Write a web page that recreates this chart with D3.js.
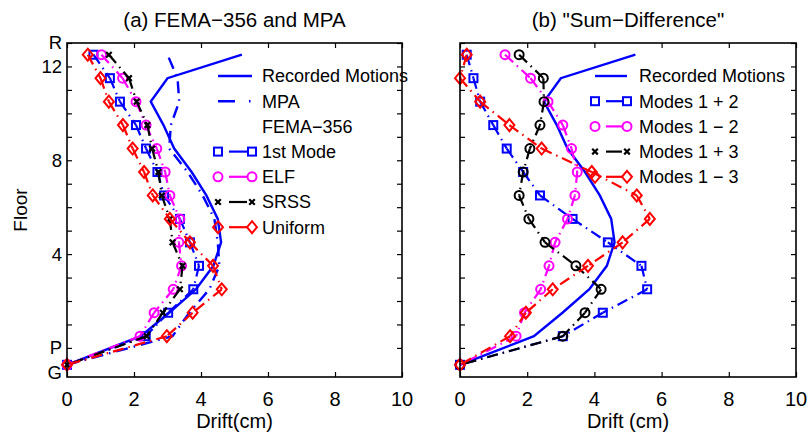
<!DOCTYPE html>
<html><head><meta charset="utf-8">
<script src="https://cdn.jsdelivr.net/npm/d3@7"></script>
<style>
body{margin:0;background:#fff;}
text{font-family:"Liberation Sans",Arial,Helvetica,sans-serif;fill:#000;}
</style></head>
<body><svg id="c" width="808" height="437"></svg>
<script>
// story levels (mid-height of each story; first entry = ground)
const levels = [-0.72, 0.5, 1.5, 2.5, 3.5, 4.5, 5.5, 6.5, 7.5, 8.5, 9.5, 10.5, 11.5, 12.5];
const recorded = [0, 2.2, 3.05, 3.85, 4.37, 4.6, 4.5, 4.16, 3.72, 3.2, 2.88, 2.5, 3.0, 5.22];
const mpa      = [0, 3.15, 3.65, 4.25, 4.55, 4.5, 4.4, 4.05, 3.6, 3.05, 3.1, 3.35, 3.3, 3.0];
// FEMA-356
const mode1    = [0, 2.35, 3.02, 3.77, 3.94, 3.67, 3.37, 2.9, 2.7, 2.36, 2.06, 1.58, 1.28, 0.79];
const elf      = [0, 2.18, 2.6, 3.17, 3.42, 3.34, 3.37, 3.07, 2.93, 2.68, 2.36, 2.06, 1.66, 1.03];
const srss     = [0, 2.38, 2.86, 3.37, 3.45, 3.15, 3.07, 2.83, 2.73, 2.54, 2.4, 2.08, 1.85, 1.25];
const uniform  = [0, 2.98, 3.75, 4.62, 4.36, 3.67, 3.07, 2.56, 2.3, 1.96, 1.67, 1.25, 1.0, 0.62];
// Sum-Difference
const m1p2     = [0, 3.06, 4.25, 5.57, 5.4, 4.4, 3.35, 2.38, 1.88, 1.39, 0.99, 0.6, 0.4, 0.2];
const m1m2     = [0, 1.67, 1.92, 2.4, 2.65, 2.83, 3.2, 3.42, 3.49, 3.32, 3.06, 2.62, 2.1, 1.34];
const m1p3     = [0, 3.06, 3.72, 4.2, 3.45, 2.53, 2.05, 1.76, 1.88, 2.08, 2.38, 2.5, 2.48, 1.76];
const m1m3     = [0, 1.49, 1.96, 2.76, 3.81, 4.84, 5.65, 5.26, 3.92, 2.43, 1.47, 0.6, 0.0, 0.2];

const xTicks = [0, 2, 4, 6, 8, 10];
const yTicks = d3.range(0, 14);
const yLabels = [{v:-1.05,t:"G"},{v:0,t:"P"},{v:4,t:"4"},{v:8,t:"8"},{v:12,t:"12"},{v:13,t:"R"}];
const titles = ["(a) FEMA\u2212356 and MPA", "(b) \"Sum\u2212Difference\""];
const xLabels = ["Drift(cm)", "Drift (cm)"];

const legendA = [
  {t:"Recorded Motions", c:"#0000ff", kind:"solid"},
  {t:"MPA", c:"#0000ff", kind:"mpa"},
  {t:"FEMA\u2212356", kind:"none"},
  {t:"1st Mode", c:"#0000ff", m:"square"},
  {t:"ELF", c:"#ff00ff", m:"circle"},
  {t:"SRSS", c:"#000000", m:"x"},
  {t:"Uniform", c:"#ff0000", m:"diamond"}
];
const legendB = [
  {t:"Recorded Motions", c:"#0000ff", kind:"solid"},
  {t:"Modes 1 + 2", c:"#0000ff", m:"square"},
  {t:"Modes 1 \u2212 2", c:"#ff00ff", m:"circle"},
  {t:"Modes 1 + 3", c:"#000000", m:"x"},
  {t:"Modes 1 \u2212 3", c:"#ff0000", m:"diamond"}
];

const svg = d3.select("#c");
const y = d3.scaleLinear().domain([-1.24, 13]).range([377, 43]);
const panels = [
  {x: d3.scaleLinear().domain([0,10]).range([67,402]), labels:true,
   series:[{d:mode1,c:"#0000ff",m:"square"},{d:elf,c:"#ff00ff",m:"circle"},{d:srss,c:"#000",m:"x"},{d:uniform,c:"#ff0000",m:"diamond"}],
   mpa:true, legend:legendA, lx:[218,252], tx:262},
  {x: d3.scaleLinear().domain([0,10]).range([460,796]), labels:false,
   series:[{d:m1p2,c:"#0000ff",m:"square"},{d:m1m2,c:"#ff00ff",m:"circle"},{d:m1p3,c:"#000",m:"circle"},{d:m1m3,c:"#ff0000",m:"diamond"}],
   mpa:false, legend:legendB, lx:[595,627], tx:639}
];

function marker(g, type, cx, cy, color){
  const s = g.append("g").attr("transform",`translate(${cx},${cy})`)
    .attr("fill","none").attr("stroke",color).attr("stroke-width",2);
  if(type==="square") s.append("rect").attr("x",-4).attr("y",-4).attr("width",8).attr("height",8);
  else if(type==="circle") s.append("circle").attr("r",4.5);
  else if(type==="diamond") s.append("path").attr("d","M0,-6L5,0L0,6L-5,0Z");
  else if(type==="x"){ s.append("path").attr("d","M-2.8,-2.8L2.8,2.8M-2.8,2.8L2.8,-2.8").attr("stroke-width",2.2); }
}

const line = (xs) => d3.line().x(d=>xs(d[0])).y(d=>y(d[1]));

panels.forEach((p,pi)=>{
  const g = svg.append("g");
  const x = p.x;
  g.append("path").datum(recorded.map((v,i)=>[v,levels[i]]))
    .attr("d", line(x)).attr("fill","none").attr("stroke","#0000ff").attr("stroke-width",2.4);
  if(p.mpa){
    g.append("path").datum(mpa.map((v,i)=>[v,levels[i]]))
      .attr("d", line(x)).attr("fill","none").attr("stroke","#0000ff").attr("stroke-width",2.4)
      .attr("stroke-dasharray","12,6,1.5,6");
  }
  p.series.forEach(s=>{
    const pts = s.d.map((v,i)=>[v,levels[i]]);
    for(let i=pts.length-1;i>0;i--){
      g.append("path").datum([pts[i],pts[i-1]]).attr("d", line(x))
        .attr("fill","none").attr("stroke",s.c).attr("stroke-width",2.2)
        .attr("stroke-dasharray","11,5,1.5,5");
    }
    pts.forEach(q=>marker(g, s.m, x(q[0]), y(q[1]), s.c));
  });
  const [x0,x1] = x.range();
  g.append("rect").attr("x",x0).attr("y",43).attr("width",x1-x0).attr("height",334)
    .attr("fill","none").attr("stroke","#000").attr("stroke-width",1.6);
  const tickAttr = sel => { sel.select(".domain").remove(); sel.selectAll("line").attr("stroke","#000").attr("stroke-width",1.2); sel.selectAll("text").remove(); };
  g.append("g").attr("transform","translate(0,377)").call(d3.axisBottom(x).tickValues(xTicks).tickSize(-5).tickSizeOuter(0)).call(tickAttr);
  g.append("g").attr("transform","translate(0,43)").call(d3.axisTop(x).tickValues(xTicks).tickSize(-5).tickSizeOuter(0)).call(tickAttr);
  g.append("g").attr("transform",`translate(${x0},0)`).call(d3.axisLeft(y).tickValues(yTicks).tickSize(-5).tickSizeOuter(0)).call(tickAttr);
  g.append("g").attr("transform",`translate(${x1},0)`).call(d3.axisRight(y).tickValues(yTicks).tickSize(-5).tickSizeOuter(0)).call(tickAttr);
  g.selectAll(".xl").data(xTicks).enter().append("text")
    .attr("x",d=>x(d)).attr("y",406).attr("text-anchor","middle").attr("font-size",20).text(d=>d);
  if(p.labels){
    g.selectAll(".yl").data(yLabels).enter().append("text")
      .attr("x",62).attr("y",d=>y(d.v)).attr("dy","0.35em").attr("text-anchor","end").attr("font-size",18.5).text(d=>d.t);
    g.append("text").attr("transform","translate(27,210) rotate(-90)").attr("text-anchor","middle").attr("font-size",19).text("Floor");
  }
  g.append("text").attr("x",(x0+x1)/2).attr("y",428).attr("text-anchor","middle").attr("font-size",20).text(xLabels[pi]);
  g.append("text").attr("x",(x0+x1)/2).attr("y",27).attr("text-anchor","middle").attr("font-size",20.5).text(titles[pi]);
  const [la,lb] = p.lx;
  p.legend.forEach((L,i)=>{
    const ly = 76 + i*25.2;
    const lg = g.append("g");
    if(L.kind==="solid"){
      lg.append("line").attr("x1",la).attr("x2",lb).attr("y1",ly).attr("y2",ly).attr("stroke",L.c).attr("stroke-width",2.4);
    } else if(L.kind==="mpa"){
      lg.append("line").attr("x1",la).attr("x2",lb).attr("y1",ly).attr("y2",ly).attr("stroke",L.c).attr("stroke-width",2.4).attr("stroke-dasharray","17,14,1.5,40");
    } else if(L.m){
      lg.append("line").attr("x1",la+11).attr("x2",lb-5).attr("y1",ly).attr("y2",ly).attr("stroke",L.c).attr("stroke-width",2.2);
      marker(lg, L.m, la, ly, L.c);
      marker(lg, L.m, lb, ly, L.c);
    }
    lg.append("text").attr("x",p.tx).attr("y",ly).attr("dy","0.36em").attr("font-size",18).text(L.t);
  });
});
</script></body></html>
